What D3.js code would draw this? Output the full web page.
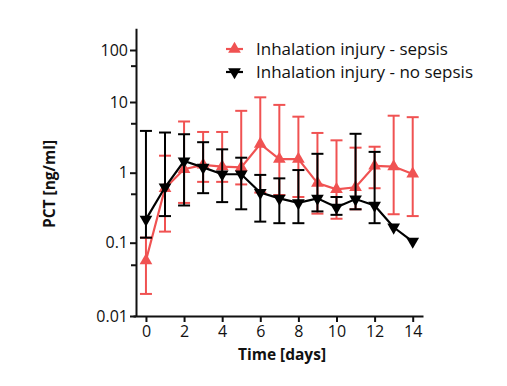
<!DOCTYPE html>
<html><head><meta charset="utf-8">
<script src="https://cdn.jsdelivr.net/npm/d3@7"></script>
<style>html,body{margin:0;padding:0;background:#fff;}svg{display:block;font-family:"Open Sans",sans-serif;}</style>
</head><body>
<svg id="c" width="507" height="386"></svg>
<script>
const days = [0,1,2,3,4,5,6,7,8,9,10,11,12,13,14];
const sepsisMean  = [0.057,0.60,1.12,1.29,1.22,1.19,2.55,1.56,1.56,0.71,0.58,0.62,1.25,1.22,0.96];
const sepsisUpper = [0.118,1.74,5.3,3.77,3.77,7.5,12.3,9.1,6.2,3.65,2.87,2.26,2.33,6.4,6.1];
const sepsisLower = [0.020,0.144,0.37,0.74,0.74,0.68,0.52,0.48,0.45,0.26,0.22,0.30,0.60,0.255,0.24];
const noSepsisMean  = [0.215,0.62,1.46,1.19,0.95,0.95,0.52,0.43,0.37,0.43,0.32,0.42,0.34,0.166,0.104];
const noSepsisUpper = [3.9,3.7,3.5,2.7,2.14,1.63,0.93,0.83,1.09,1.85,0.45,3.55,1.97,null,null];
const noSepsisLower = [0.118,0.24,0.34,0.51,0.38,0.30,0.20,0.19,0.19,0.28,0.25,0.30,0.19,null,null];
const yMajorTicks = [0.01,0.1,1,10,100];
const yMajorLabels = ["0.01","0.1","1","10","100"];
const yMinorTicks = [0.05,0.5,5,50];
const xTicks = [0,2,4,6,8,10,12,14];
const seriesNames = ["Inhalation injury - sepsis","Inhalation injury - no sepsis"];
const RED = "#f05252", BLACK = "#000";

const svg = d3.select("#c");
const x = d3.scaleLinear().domain([-0.68,14.54]).range([133,423]);
// log-value axis (the reference's decades are not evenly spaced)
const yl = d3.scaleLinear().domain([-2,-1,0,1,2]).range([316,242.7,172.7,102,50]);
const y = v => yl(Math.log10(v));

// axes
svg.append("g").attr("transform","translate(0,316)")
  .call(d3.axisBottom(x).tickValues(xTicks).tickSize(6).tickSizeOuter(0).tickPadding(4));
const yTop = 2.42;
const yScaleAxis = d3.scaleLinear().domain([-2,-1,0,1,2,yTop]).range([316,242.7,172.7,102,50,yl(yTop)]);
svg.append("g").attr("transform","translate(136,0)")
  .call(d3.axisLeft(yScaleAxis).tickValues(yMajorTicks.map(Math.log10))
    .tickFormat((d,i)=>yMajorLabels[i]).tickSize(6).tickSizeOuter(0).tickPadding(2));
svg.append("g").attr("transform","translate(136,0)")
  .call(d3.axisLeft(yScaleAxis).tickValues(yMinorTicks.map(Math.log10)).tickFormat("").tickSize(5).tickSizeOuter(0))
  .select(".domain").remove();
svg.selectAll(".domain").attr("stroke","#111").attr("stroke-width",2);
svg.selectAll(".tick line").attr("stroke","#111").attr("stroke-width",2);
svg.selectAll(".tick text").attr("font-size",16).attr("font-family","Open Sans").attr("fill","#111");

// axis titles
svg.append("text").attr("x",282).attr("y",360).attr("text-anchor","middle")
  .attr("font-size",15.5).attr("font-weight","bold").attr("fill","#111").text("Time [days]");
svg.append("text").attr("transform","translate(55,184) rotate(-90)").attr("text-anchor","middle")
  .attr("font-size",15.5).attr("font-weight","bold").attr("fill","#111").text("PCT [ng/ml]");

function drawSeries(mean, up, lo, color, rot){
  const g = svg.append("g");
  days.forEach((d,i)=>{
    if(up[i]==null) return;
    const cx = x(d);
    g.append("line").attr("x1",cx).attr("x2",cx).attr("y1",y(up[i])).attr("y2",y(lo[i]))
      .attr("stroke",color).attr("stroke-width",2);
    [up[i],lo[i]].forEach(v=>g.append("line").attr("x1",cx-6).attr("x2",cx+6)
      .attr("y1",y(v)).attr("y2",y(v)).attr("stroke",color).attr("stroke-width",2));
  });
  g.append("path").datum(days.map((d,i)=>[x(d),y(mean[i])]))
    .attr("d",d3.line()).attr("fill","none").attr("stroke",color).attr("stroke-width",2.2);
  g.selectAll(".m").data(days).enter().append("path")
    .attr("d",d3.symbol(d3.symbolTriangle,70))
    .attr("transform",(d,i)=>`translate(${x(d)},${y(mean[i])}) rotate(${rot})`)
    .attr("fill",color);
}
drawSeries(sepsisMean,sepsisUpper,sepsisLower,RED,0);
drawSeries(noSepsisMean,noSepsisUpper,noSepsisLower,BLACK,180);

// legend
const leg = svg.append("g");
[[RED,0,49],[BLACK,180,72]].forEach(([c,r,ly],i)=>{
  leg.append("line").attr("x1",226).attr("x2",243).attr("y1",ly).attr("y2",ly).attr("stroke",c).attr("stroke-width",2.2);
  leg.append("path").attr("d",d3.symbol(d3.symbolTriangle,70)).attr("transform",`translate(234.5,${ly}) rotate(${r})`).attr("fill",c);
  leg.append("text").attr("x",256).attr("y",ly+6).attr("font-size",17).attr("fill","#111").text(seriesNames[i]);
});
</script>
</body></html>
